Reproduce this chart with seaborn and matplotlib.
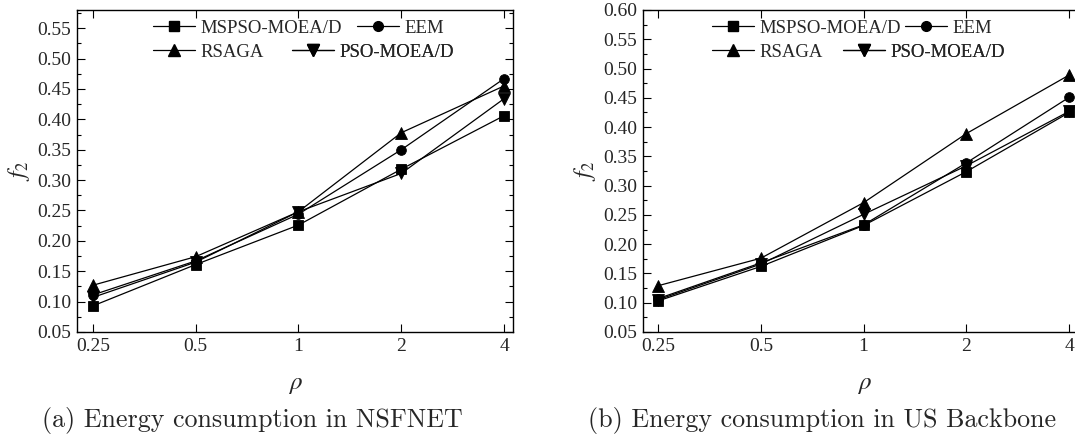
import numpy as np
import pandas as pd
import matplotlib
matplotlib.use("Agg")
import matplotlib.pyplot as plt
import seaborn as sns
from matplotlib.ticker import MultipleLocator, FixedLocator
from matplotlib.lines import Line2D

# ---- data -------------------------------------------------------------
rho_labels = ["0.25", "0.5", "1", "2", "4"]
methods = ["MSPSO-MOEA/D", "EEM", "RSAGA", "PSO-MOEA/D"]

nsfnet_mspso = [0.093, 0.161, 0.226, 0.318, 0.406]
nsfnet_eem = [0.111, 0.167, 0.244, 0.350, 0.467]
nsfnet_rsaga = [0.127, 0.174, 0.248, 0.378, 0.455]
nsfnet_pso = [0.107, 0.165, 0.248, 0.311, 0.434]

usb_mspso = [0.103, 0.162, 0.232, 0.324, 0.425]
usb_eem = [0.107, 0.168, 0.233, 0.339, 0.451]
usb_rsaga = [0.129, 0.176, 0.271, 0.389, 0.489]
usb_pso = [0.105, 0.166, 0.251, 0.334, 0.427]

captions = ["(a) Energy consumption in NSFNET",
            "(b) Energy consumption in US Backbone"]


def long_frame(series):
    rows = []
    for name, vals in zip(methods, series):
        for i, v in enumerate(vals):
            rows.append({"pos": i, "f2": v, "method": name})
    return pd.DataFrame(rows)


df_a = long_frame([nsfnet_mspso, nsfnet_eem, nsfnet_rsaga, nsfnet_pso])
df_b = long_frame([usb_mspso, usb_eem, usb_rsaga, usb_pso])

# ---- style ------------------------------------------------------------
sns.set_theme(style="ticks")
plt.rcParams["font.family"] = ["Liberation Serif", "DejaVu Serif"]
plt.rcParams["mathtext.fontset"] = "stix"

marker_map = {"MSPSO-MOEA/D": "s", "EEM": "o", "RSAGA": "^", "PSO-MOEA/D": "v"}
size_map = {"s": 6.5, "o": 7.0, "^": 8.0, "v": 8.0}

W, H = 1075, 441
fig = plt.figure(figsize=(W / 100, H / 100), dpi=100)


def px_axes(x0, x1, y0, y1):
    return fig.add_axes([x0 / W, 1 - y1 / H, (x1 - x0) / W, (y1 - y0) / H])


panels = [
    dict(df=df_a, box=(77, 513, 10, 332), xlim=(-0.155, 4.087), ylim=(0.05, 0.58),
         yticks=np.arange(0.05, 0.5501, 0.05), cap_x=252, caption=captions[0],
         leg=[(153, 357), (153, 292)]),
    dict(df=df_b, box=(643, 1085, 10, 332), xlim=(-0.146, 4.153), ylim=(0.05, 0.60),
         yticks=np.arange(0.05, 0.6001, 0.05), cap_x=822, caption=captions[1],
         leg=[(712, 905), (712, 843)]),
]

for p in panels:
    x0, x1, y0, y1 = p["box"]
    ax = px_axes(x0, x1, y0, y1)
    sns.lineplot(data=p["df"], x="pos", y="f2", hue="method", style="method",
                 hue_order=methods, style_order=methods,
                 palette=["black"] * 4, markers=marker_map, dashes=False,
                 linewidth=0.9, markersize=7.5, markeredgewidth=0.6,
                 markeredgecolor="black", legend=False, ax=ax)
    # marker sizes per symbol
    for line in ax.get_lines():
        m = line.get_marker()
        if m in size_map:
            line.set_markersize(size_map[m])
            line.set_markeredgecolor("black")
    ax.set_xlim(*p["xlim"])
    ax.set_ylim(*p["ylim"])
    ax.xaxis.set_major_locator(FixedLocator(range(len(rho_labels))))
    ax.set_xticklabels(rho_labels)
    ax.set_yticks(p["yticks"])
    ax.set_yticklabels([f"{v:.2f}" for v in p["yticks"]])
    ax.yaxis.set_minor_locator(MultipleLocator(0.025))
    ax.tick_params(which="both", direction="in", top=True, right=True,
                   labelsize=14, width=0.8, color="black", pad=4)
    ax.tick_params(which="major", length=6)
    ax.tick_params(which="minor", length=3)
    for s in ax.spines.values():
        s.set_linewidth(1.0)
        s.set_color("black")
    ax.set_xlabel(r"$\rho$", fontsize=18, labelpad=14)
    ax.set_ylabel(r"$f_2$", fontsize=17, labelpad=4)

    # two legend rows, each entry placed on its own
    rows = [methods[:2], methods[2:]]
    row_y = [28, 52]
    for r, (names, (hx1, hx2)) in enumerate(zip(rows, p["leg"])):
        for name, hx in zip(names, (hx1, hx2)):
            h = Line2D([], [], color="black", lw=0.9, marker=marker_map[name],
                       markersize=size_map[marker_map[name]])
            leg = ax.legend([h], [name], loc="center left",
                            bbox_to_anchor=((hx - x0) / (x1 - x0),
                                            1 - (row_y[r] - y0) / (y1 - y0)),
                            frameon=False, fontsize=13.5, handlelength=2.25,
                            handletextpad=0.3, borderpad=0, borderaxespad=0)
            ax.add_artist(leg)

    fig.text(p["cap_x"] / W, 1 - 420 / H, p["caption"],
             family="cmr10", fontsize=18.7, ha="center", va="center")

fig.savefig("out.png", dpi=100)
